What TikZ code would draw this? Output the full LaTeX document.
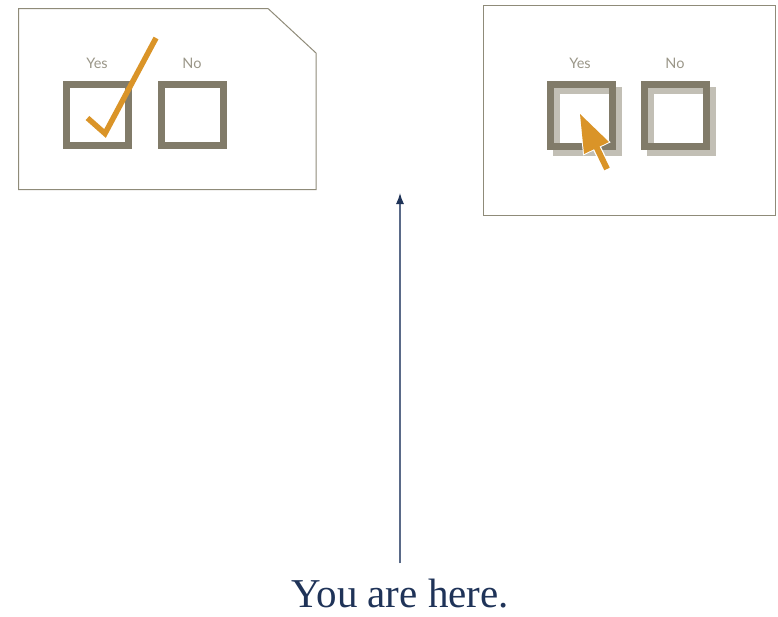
\documentclass[tikz,border=0pt]{standalone}
\usepackage{fontspec}
\setmainfont{Liberation Serif}
\newfontfamily\labelfont{Lato}
\usetikzlibrary{arrows.meta}
\definecolor{cardline}{HTML}{8F8B79}
\definecolor{boxcol}{HTML}{817B69}
\definecolor{shadowcol}{HTML}{C2BFB5}
\definecolor{labelcol}{HTML}{9A9688}
\definecolor{orangecol}{HTML}{DA9428}
\definecolor{navy}{HTML}{1F3358}
\definecolor{navyline}{HTML}{5A6A88}
\tikzset{
  card/.style={draw=cardline, line width=1pt},
  cbox/.style={draw=boxcol, line width=7pt},
  cshadow/.style={draw=shadowcol, line width=7pt},
  ylabel/.style={font=\labelfont\fontsize{14.5}{14.5}\selectfont, text=labelcol, inner sep=0pt, anchor=base},
}
\begin{document}
\begin{tikzpicture}[x=1pt,y=-1pt]
\useasboundingbox (0,0) rectangle (778,616);
% left card
\draw[card] (18.5,8.5) -- (268,8.5) -- (316,53) -- (316,189.5) -- (18.5,189.5) -- cycle;
\node[ylabel] (yesL) at (97,68) {Yes};
\node[ylabel] (noL) at (192,68) {No};
\draw[cbox] (66.5,84.5) rectangle (128.5,145.5);
\draw[cbox] (161.5,84.5) rectangle (223.5,145.5);
\draw[orangecol, line width=5.5pt] (87.5,118) -- (105,133.5) -- (156,38);
% right card
\draw[card] (483.5,5.5) rectangle (775.5,215);
\node[ylabel] (yesR) at (580,68) {Yes};
\node[ylabel] (noR) at (675,68) {No};
\draw[cshadow] (556.5,90.5) rectangle (618.5,152.5);
\draw[cshadow] (650.5,90.5) rectangle (712.5,152.5);
\draw[cbox] (550.5,84.5) rectangle (612.5,146.5);
\draw[cbox] (644.5,84.5) rectangle (706.5,146.5);
% cursor
\draw[white, line width=8.5pt] (594,142) -- (607,169);
\draw[white, line width=2pt, line join=miter, fill=white] (580,114) -- (609,142) -- (584,154) -- cycle;
\draw[orangecol, line width=6pt] (594,142) -- (607,169);
\fill[orangecol] (580,114) -- (609,142) -- (584,154) -- cycle;
% you are here
\node[font=\fontsize{41}{41}\selectfont, text=navy, inner sep=0pt, anchor=base] (here) at (400,607) {You are here.};
\coordinate (top) at (400,193);
\draw[navyline, line width=1.3pt, -{Latex[length=11pt,width=8pt,color=navy]}] (here.north) ++(0,-15) -- (top);
\end{tikzpicture}
\end{document}
